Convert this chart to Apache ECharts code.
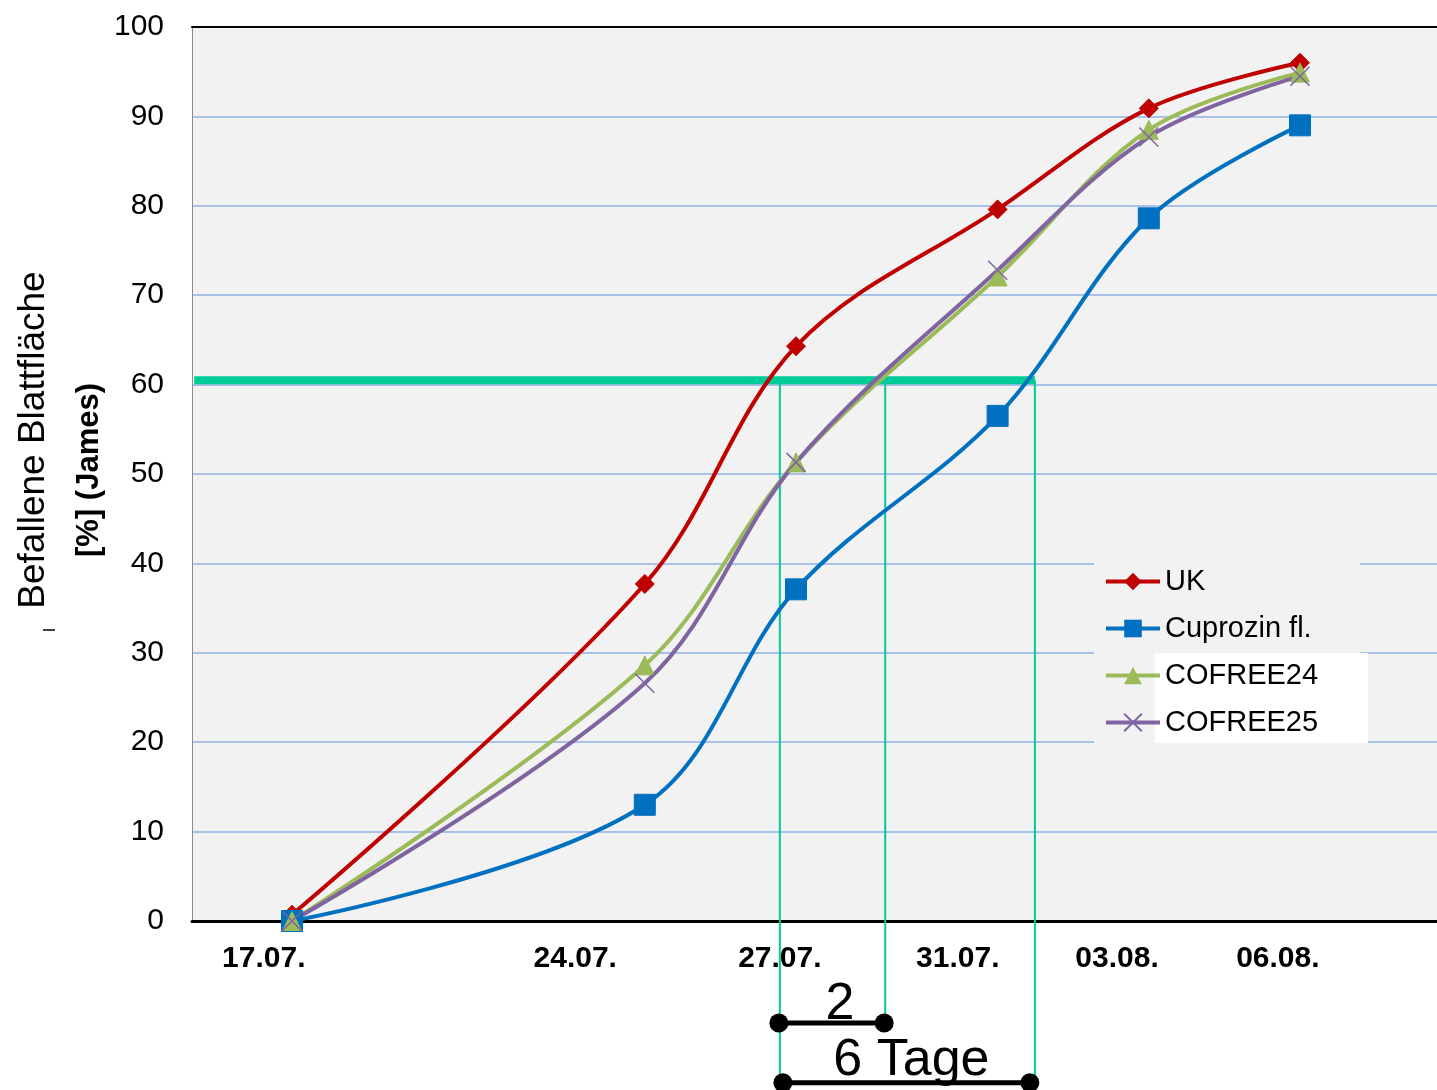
<!DOCTYPE html>
<html>
<head>
<meta charset="utf-8">
<script src="https://cdn.jsdelivr.net/npm/echarts@6/dist/echarts.min.js"></script>
<style>
    html, body { margin: 0; padding: 0; background: #fff; }
    #main { width: 1437px; height: 1090px; }
</style>
</head>
<body>
<div id="main"></div>
<script>
// Boniturtermine (Tage ab 17.07.) und Beschriftungen der Achse
const dates = ['17.07.', '24.07.', '27.07.', '31.07.', '03.08.', '06.08.'];
const dayOffsets = [0, 7, 10, 14, 17, 20];
// Lage der Achsenbeschriftungen (in Tagen, wie im Original leicht versetzt)
const labelDays = [-0.56, 5.62, 9.68, 13.21, 16.37, 19.56];

// Befallene Blattfläche [%] (James)
const ukValues = [0.7, 37.7, 64.3, 79.6, 90.9, 96.0];
const cuprozinValues = [0, 13.0, 37.1, 56.5, 78.6, 89.0];
const cofree24Values = [0, 28.6, 51.3, 72.1, 88.5, 94.9];
const cofree25Values = [0, 26.6, 51.3, 72.8, 87.7, 94.5];

// 60 %-Schwelle, Schnittpunkte und untere Enden der Hilfslinien
const threshold = 60.5;
const crossDays = [9.68, 11.77, 14.74];
const crossEnds = [-19, -11.4, -18.1];

const FONT = '"Liberation Sans", Arial, sans-serif';

let chart = echarts.init(document.getElementById('main'));

function pairs(values) {
    return values.map(function (v, i) {
        return [dayOffsets[i], v];
    });
}

function dataSeries(name, values, color, symbol, size) {
    return {
        name: name,
        type: 'line',
        smooth: 0.35,
        data: pairs(values),
        symbol: symbol,
        symbolSize: size,
        lineStyle: {color: color, width: 4},
        itemStyle: {color: color, borderColor: color},
        z: 5
    };
}

// vertikale Hilfslinien von der Schwelle bis unter die Achse
let helperSeries = crossDays.map(function (d, i) {
    return {
        type: 'line',
        data: [[d, threshold], [d, crossEnds[i]]],
        symbol: 'none',
        clip: false,
        silent: true,
        lineStyle: {color: '#00CC99', width: 2},
        z: 3
    };
});

let option = {
    backgroundColor: '#ffffff',
    animation: false,
    grid: {
        left: 192,
        right: 0,
        top: 27,
        bottom: 169,
        show: true,
        backgroundColor: '#F2F2F2',
        borderWidth: 0
    },
    legend: {
        orient: 'vertical',
        left: 1104,
        top: 567,
        padding: 0,
        itemGap: 18,
        itemWidth: 54,
        itemHeight: 22,
        z: 6,
        lineStyle: {width: 4},
        textStyle: {fontFamily: FONT, fontSize: 29, color: '#000'},
        data: ['UK', 'Cuprozin fl.', 'COFREE24', 'COFREE25']
    },
    xAxis: [
        {
            type: 'value',
            min: -1.984,
            max: 22.718,
            axisLine: {show: true, onZero: false, lineStyle: {color: '#000', width: 3}},
            axisTick: {show: false},
            splitLine: {show: false},
            axisLabel: {
                customValues: labelDays,
                margin: 23,
                fontFamily: FONT,
                fontSize: 30,
                fontWeight: 'bold',
                color: '#000',
                formatter: function (v) {
                    let idx = labelDays.indexOf(v);
                    return idx >= 0 ? dates[idx] : '';
                }
            }
        },
        {
            type: 'value',
            position: 'top',
            min: -1.984,
            max: 22.718,
            axisLine: {show: true, onZero: false, lineStyle: {color: '#000', width: 2}},
            axisTick: {show: false},
            axisLabel: {show: false},
            splitLine: {show: false}
        }
    ],
    yAxis: {
        type: 'value',
        min: 0,
        max: 100,
        interval: 10,
        axisLine: {show: true, onZero: false, lineStyle: {color: '#8C8C8C', width: 1}},
        axisTick: {show: false},
        splitLine: {show: true, lineStyle: {color: '#A9C0E8', width: 2}},
        axisLabel: {margin: 28, fontFamily: FONT, fontSize: 30, color: '#000'}
    },
    graphic: [
        {
            type: 'text', x: 34, y: 440, rotation: Math.PI / 2,
            style: {text: 'Befallene Blattfläche', font: '37px ' + FONT, fill: '#000', align: 'center', verticalAlign: 'middle'}
        },
        {
            type: 'text', x: 89, y: 470, rotation: Math.PI / 2,
            style: {text: '[%] (James)', font: 'bold 31px ' + FONT, fill: '#000', align: 'center', verticalAlign: 'middle'}
        },
        {
            type: 'line', shape: {x1: 43, y1: 630, x2: 55, y2: 630},
            style: {stroke: '#000', lineWidth: 1.5}
        },
        {
            type: 'rect', z: 3, shape: {x: 1094, y: 553, width: 266, height: 192},
            style: {fill: '#F2F2F2'}
        },
        {
            type: 'rect', z: 3, shape: {x: 1155, y: 653, width: 213, height: 90},
            style: {fill: '#ffffff'}
        }
    ],
    series: [
        dataSeries('UK', ukValues, '#C00000', 'diamond', 19),
        dataSeries('Cuprozin fl.', cuprozinValues, '#0070C0', 'rect', 21),
        dataSeries('COFREE24', cofree24Values, '#9BBB59', 'triangle', 19),
        {
            name: 'COFREE25',
            type: 'line',
            smooth: 0.35,
            data: pairs(cofree25Values),
            symbol: 'path://M0,0 L10,10 M10,0 L0,10',
            symbolSize: 19,
            lineStyle: {color: '#8064A2', width: 4},
            itemStyle: {color: 'none', borderColor: '#8064A2', borderWidth: 1.5},
            z: 5
        },
        {
            type: 'line',
            data: [[-1.94, threshold], [crossDays[2], threshold]],
            symbol: 'none',
            clip: false,
            silent: true,
            lineStyle: {color: '#00CC99', width: 8},
            z: 4
        }
    ].concat(helperSeries).concat([
        {
            type: 'line',
            data: [[9.66, -11.4], [11.75, -11.4]],
            symbol: 'circle',
            symbolSize: 19,
            clip: false,
            silent: true,
            lineStyle: {color: '#000', width: 5},
            itemStyle: {color: '#000'},
            z: 4
        },
        {
            type: 'line',
            data: [[9.74, -18.1], [14.64, -18.1]],
            symbol: 'circle',
            symbolSize: 19,
            clip: false,
            silent: true,
            lineStyle: {color: '#000', width: 5},
            itemStyle: {color: '#000'},
            z: 4
        },
        {
            type: 'scatter',
            clip: false,
            silent: true,
            symbolSize: 0,
            itemStyle: {opacity: 1, color: '#000'},
            data: [
                {value: [10.87, -9.4], name: '2'},
                {value: [12.29, -15.6], name: '6 Tage'}
            ],
            label: {
                show: true,
                position: 'inside',
                formatter: '{b}',
                fontFamily: FONT,
                fontSize: 52,
                color: '#000',
                textBorderWidth: 0
            },
            z: 6
        }
    ])
};

chart.setOption(option);
</script>
</body>
</html>
